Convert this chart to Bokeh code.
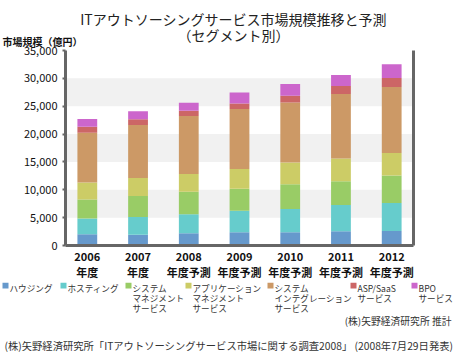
from bokeh.plotting import figure
from bokeh.models import Range1d, FixedTicker, LinearAxis, NumeralTickFormatter
from bokeh.core.properties import value
from bokeh.embed import file_html
from bokeh.resources import INLINE

years = ["2006", "2007", "2008", "2009", "2010", "2011", "2012"]
year_labels = ["2006\n年度", "2007\n年度", "2008\n年度予測", "2009\n年度予測",
               "2010\n年度予測", "2011\n年度予測", "2012\n年度予測"]
segments = ["housing", "hosting", "sysmgmt", "appmgmt", "si", "asp", "bpo"]
segment_labels = ["ハウジング", "ホスティング", "システム\nマネジメント\nサービス",
                  "アプリケーション\nマネジメント\nサービス",
                  "システム\nインテグレーション\nサービス", "ASP/SaaS\nサービス", "BPO\nサービス"]
colors = ["#6699cc", "#66cccc", "#99cc66", "#cccc66", "#cc9966", "#cc6666", "#cc66cc"]

housing = [2000, 1950, 2200, 2400, 2400, 2550, 2600]
hosting = [2850, 3150, 3400, 3850, 4150, 4700, 5050]
sysmgmt = [3400, 3800, 4050, 3950, 4450, 4300, 4900]
appmgmt = [3050, 3200, 3200, 3550, 3900, 4050, 4050]
si = [8950, 9550, 10400, 10750, 10750, 11600, 11850]
asp = [1050, 1000, 950, 1000, 1250, 1450, 1600]
bpo = [1400, 1450, 1400, 1950, 2100, 1950, 2500]

y_ticks = [0, 5000, 10000, 15000, 20000, 25000, 30000, 35000]

title_lines = ["ITアウトソーシングサービス市場規模推移と予測", "（セグメント別）"]
y_title = "市場規模（億円）"
source_note = "(株)矢野経済研究所 推計"
footer = "(株)矢野経済研究所「ITアウトソーシングサービス市場に関する調査2008」 (2008年7月29日発表)"

FONT = "Noto Sans CJK JP"
W = 454
TOP_H = 50
OVERLAP = 10
MAIN_H = 242
BOT_H = 360 - TOP_H + OVERLAP - MAIN_H


def text_panel(h):
    f = figure(width=W, height=h, output_backend="svg", toolbar_location=None,
               x_range=Range1d(0, W), y_range=Range1d(h, 0),
               x_axis_location=None, y_axis_location=None,
               min_border_left=0, min_border_right=0, min_border_top=0, min_border_bottom=0)
    f.outline_line_color = None
    f.xgrid.grid_line_color = None
    f.ygrid.grid_line_color = None
    f.background_fill_color = "white"
    f.border_fill_color = "white"
    return f


# ---- top: titles (pixel coordinates, y downward) ----
t = text_panel(TOP_H)
t.text(x=[233, 233], y=[18, 34], text=title_lines, text_font=value(FONT),
       text_font_size="14px", text_align="center", text_baseline="middle",
       text_color="#222222")
t.text(x=[2], y=[41], text=[y_title], text_font=value(FONT), text_font_size="10px",
       text_font_style="bold", text_align="left", text_baseline="middle", text_color="#111111")

# ---- main chart (its transparent top border overlaps the title panel) ----
xs = list(range(1, len(years) + 1))
data = dict(x=xs, housing=housing, hosting=hosting, sysmgmt=sysmgmt, appmgmt=appmgmt,
            si=si, asp=asp, bpo=bpo)

p = figure(width=W, height=MAIN_H, output_backend="svg", toolbar_location=None,
           x_range=Range1d(0.57, 7.43), y_range=Range1d(0, 35000),
           min_border_left=65, min_border_right=41, min_border_top=OVERLAP, min_border_bottom=37)
p.styles = {"margin-top": f"-{OVERLAP}px"}
p.outline_line_color = None
p.background_fill_color = "white"
p.border_fill_color = None
p.border_fill_alpha = 0

p.vbar_stack(segments, x="x", width=0.39, color=colors, line_color=None, source=data)

p.xgrid.grid_line_color = None
p.ygrid.grid_line_color = None
p.ygrid.ticker = FixedTicker(ticks=y_ticks)
p.ygrid.band_fill_color = "#f1f1f1"
p.ygrid.band_fill_alpha = 1.0

ya = p.yaxis[0]
ya.ticker = FixedTicker(ticks=y_ticks)
ya.formatter = NumeralTickFormatter(format="0,0")
ya.axis_line_width = 3
ya.axis_line_color = "#666666"
ya.major_tick_in = 0
ya.major_tick_out = 3
ya.major_tick_line_width = 2
ya.major_tick_line_color = "#666666"
ya.minor_tick_line_color = None
ya.major_label_text_font = FONT
ya.major_label_text_font_size = "11px"
ya.major_label_text_color = "#111111"
ya.major_label_standoff = 5

xa = p.xaxis[0]
xa.ticker = FixedTicker(ticks=xs)
xa.major_label_overrides = {x: lab for x, lab in zip(xs, year_labels)}
xa.axis_line_width = 3
xa.axis_line_color = "#666666"
xa.major_tick_in = 0
xa.major_tick_out = 0
xa.minor_tick_line_color = None
xa.major_label_text_font = FONT
xa.major_label_text_font_size = "11px"
xa.major_label_text_font_style = "bold"
xa.major_label_text_color = "#111111"
xa.major_label_text_line_height = 1.0
xa.major_label_standoff = 2

ra = LinearAxis(ticker=FixedTicker(ticks=[]), axis_line_width=3, axis_line_color="#666666",
                major_tick_in=0, major_tick_out=0, minor_tick_line_color=None,
                major_label_text_font_size="0px")
p.add_layout(ra, "right")

# ---- bottom: legend and notes (pixel coordinates, y downward) ----
q = text_panel(BOT_H)
legend_sq_x = [2, 60, 125, 185, 267, 350, 411]
q.rect(x=[xv + 3 for xv in legend_sq_x], y=[3] * len(legend_sq_x), width=6, height=6,
       fill_color=colors, line_color=None)
q.text(x=[xv + 7 for xv in legend_sq_x], y=[-1] * len(legend_sq_x), text=segment_labels,
       text_font=value(FONT), text_font_size="8.6px", text_baseline="top", text_align="left",
       text_color="#333333", text_line_height=0.85)
q.text(x=[451], y=[38], text=[source_note], text_font=value(FONT), text_font_size="9.8px",
       text_baseline="middle", text_align="right", text_color="#333333")
q.text(x=[4], y=[63], text=[footer], text_font=value(FONT), text_font_size="10.3px",
       text_baseline="middle", text_align="left", text_color="#333333")

open("out.html", "w").write(file_html([t, p, q], INLINE))
